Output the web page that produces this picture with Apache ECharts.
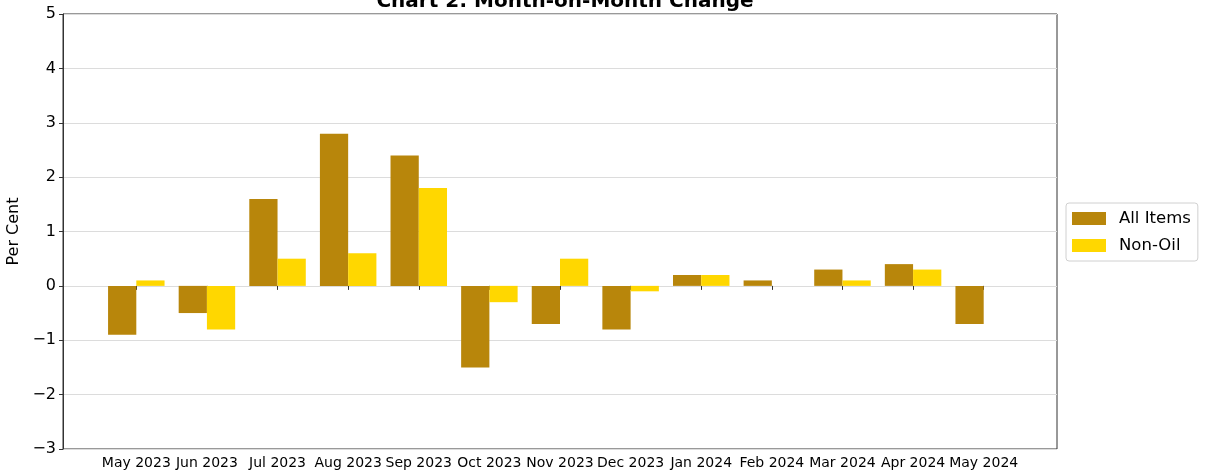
<!DOCTYPE html>
<html>
<head>
<meta charset="utf-8">
<script src="https://cdn.jsdelivr.net/npm/echarts@6/dist/echarts.min.js"></script>
<style>
  html, body { margin: 0; padding: 0; background: #fff; }
  #chart { width: 1205px; height: 475px; }
</style>
</head>
<body>
<div id="chart"></div>
<script>
// 月份
const months = ['May 2023', 'Jun 2023', 'Jul 2023', 'Aug 2023', 'Sep 2023', 'Oct 2023', 'Nov 2023',
  'Dec 2023', 'Jan 2024', 'Feb 2024', 'Mar 2024', 'Apr 2024', 'May 2024']
// 所有项目
const allItems = [-0.9, -0.5, 1.6, 2.8, 2.4, -1.5, -0.7, -0.8, 0.2, 0.1, 0.3, 0.4, -0.7]
// 非石油
const nonOil = [0.1, -0.8, 0.5, 0.6, 1.8, -0.3, 0.5, -0.1, 0.2, 0.0, 0.1, 0.3, null]
const yTicks = { min: -3, max: 5, step: 1 }

const font = 'DejaVu Sans'
const chart = echarts.init(document.getElementById('chart'))

const option = {
  animation: false,
  textStyle: { fontFamily: font },
  title: {
    text: 'Chart 2: Month-on-Month Change',
    left: 560,
    textAlign: 'center',
    top: -13,
    textStyle: { fontSize: 20, fontWeight: 'bold', color: '#000', fontFamily: font }
  },
  legend: {
    orient: 'vertical',
    left: 1066,
    top: 203,
    icon: 'rect',
    itemWidth: 34,
    itemHeight: 13,
    itemGap: 10,
    padding: [7, 7, 7, 6],
    borderColor: '#d0d0d0',
    borderWidth: 1,
    borderRadius: 3,
    textStyle: { fontSize: 16.5, color: '#000', fontFamily: font, padding: [0, 0, 0, 8] },
    data: ['All Items', 'Non-Oil']
  },
  grid: [
    // 外框
    { left: 63, right: 148, top: 14, bottom: 26, outerBoundsMode: 'none', containLabel: false,
      show: true, borderColor: '#333', borderWidth: 1 },
    // 柱子所在区域
    { left: 101, right: 186, top: 14, bottom: 26, outerBoundsMode: 'none', containLabel: false }
  ],
  xAxis: [
    { gridIndex: 0, type: 'value', min: 0, max: 1, show: false },
    {
      gridIndex: 1,
      type: 'category',
      data: months,
      axisLine: { show: false },
      axisTick: { show: true, alignWithLabel: true, length: 4, lineStyle: { color: '#333' } },
      axisLabel: { fontSize: 14, color: '#000', margin: 7, interval: 0, fontFamily: font },
      splitLine: { show: false }
    }
  ],
  yAxis: [
    {
      gridIndex: 0,
      type: 'value',
      min: yTicks.min,
      max: yTicks.max,
      interval: yTicks.step,
      name: 'Per Cent',
      nameLocation: 'middle',
      nameGap: 33,
      nameRotate: 90,
      nameTextStyle: { fontSize: 16, color: '#000', fontFamily: font },
      axisLine: { show: true, lineStyle: { color: '#333' } },
      axisTick: { show: true, length: 4, lineStyle: { color: '#333' } },
      axisLabel: {
        fontSize: 16, color: '#000', margin: 7, fontFamily: font,
        formatter: v => String(v).replace('-', '\u2212')
      },
      splitLine: { show: true, lineStyle: { color: '#dcdcdc', width: 1 } }
    },
    { gridIndex: 1, type: 'value', min: yTicks.min, max: yTicks.max, show: false }
  ],
  series: [
    {
      name: 'All Items',
      type: 'bar',
      xAxisIndex: 1,
      yAxisIndex: 1,
      data: allItems,
      barGap: '0%',
      barCategoryGap: '20%',
      itemStyle: { color: '#B8860B' }
    },
    {
      name: 'Non-Oil',
      type: 'bar',
      xAxisIndex: 1,
      yAxisIndex: 1,
      data: nonOil,
      barGap: '0%',
      barCategoryGap: '20%',
      itemStyle: { color: '#FFD700' }
    }
  ]
}

chart.setOption(option)
</script>
</body>
</html>
